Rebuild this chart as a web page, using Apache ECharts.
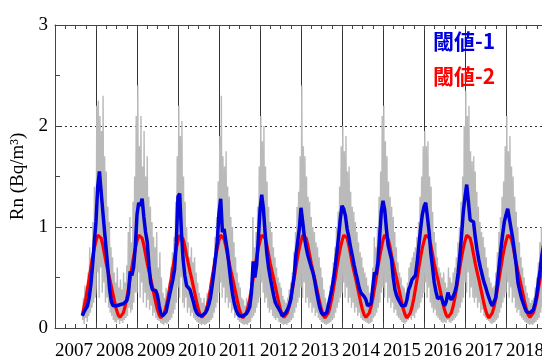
<!DOCTYPE html>
<html>
<head>
<meta charset="utf-8">
<script src="https://cdn.jsdelivr.net/npm/echarts@6/dist/echarts.min.js"></script>
<style>
  html, body { margin: 0; padding: 0; background: #fff; }
  #chart { width: 542px; height: 361px; }
</style>
</head>
<body>
<div id="chart"></div>
<script>
// Year labels along the time axis
const yearLabels = ['2007', '2008', '2009', '2010', '2011', '2012', '2013', '2014', '2015', '2016', '2017', '2018'];
const firstYear = 2007;

// Threshold 1 (blue): half-monthly values, one row per year (2007 row starts in late August)
const threshold1 = [
  [0.12, 0.16, 0.19, 0.22, 0.30, 0.43, 0.62, 0.85],
  [1.05, 1.40, 1.55, 1.35, 1.15, 0.96, 0.77, 0.58, 0.38, 0.26, 0.22, 0.22, 0.22, 0.22, 0.23, 0.23, 0.24, 0.25, 0.27, 0.34, 0.56, 0.52, 0.60, 0.80],
  [1.12, 1.24, 1.21, 1.28, 1.10, 0.95, 0.85, 0.62, 0.45, 0.38, 0.38, 0.37, 0.32, 0.22, 0.14, 0.12, 0.12, 0.16, 0.24, 0.32, 0.40, 0.48, 0.58, 0.85],
  [1.30, 1.33, 0.95, 0.68, 0.52, 0.42, 0.40, 0.38, 0.32, 0.26, 0.19, 0.15, 0.13, 0.12, 0.12, 0.13, 0.15, 0.18, 0.23, 0.30, 0.42, 0.55, 0.70, 0.86],
  [1.14, 1.28, 0.95, 0.98, 0.86, 0.75, 0.60, 0.45, 0.33, 0.24, 0.18, 0.14, 0.12, 0.12, 0.12, 0.12, 0.14, 0.17, 0.21, 0.35, 0.66, 0.50, 0.62, 0.88],
  [1.17, 1.32, 1.18, 0.94, 0.74, 0.60, 0.50, 0.41, 0.32, 0.25, 0.22, 0.21, 0.16, 0.12, 0.13, 0.15, 0.18, 0.22, 0.28, 0.40, 0.52, 0.72, 0.85, 0.98],
  [1.19, 1.05, 0.90, 0.80, 0.72, 0.66, 0.60, 0.55, 0.47, 0.37, 0.28, 0.20, 0.15, 0.13, 0.12, 0.15, 0.22, 0.30, 0.38, 0.48, 0.61, 0.75, 0.90, 1.08],
  [1.21, 1.18, 1.11, 0.98, 0.90, 0.80, 0.72, 0.63, 0.55, 0.48, 0.40, 0.35, 0.33, 0.31, 0.28, 0.22, 0.22, 0.24, 0.40, 0.55, 0.53, 0.65, 0.90, 1.15],
  [1.26, 1.17, 0.98, 0.82, 0.75, 0.68, 0.50, 0.38, 0.32, 0.28, 0.25, 0.22, 0.22, 0.22, 0.28, 0.38, 0.42, 0.48, 0.50, 0.52, 0.65, 0.82, 0.98, 1.12],
  [1.20, 1.24, 1.10, 0.95, 0.74, 0.60, 0.45, 0.36, 0.29, 0.30, 0.31, 0.26, 0.22, 0.26, 0.35, 0.30, 0.28, 0.31, 0.35, 0.42, 0.55, 0.72, 0.92, 1.15],
  [1.30, 1.42, 1.25, 1.07, 1.07, 1.05, 0.90, 0.78, 0.68, 0.60, 0.53, 0.46, 0.41, 0.35, 0.30, 0.25, 0.22, 0.26, 0.30, 0.45, 0.62, 0.78, 0.92, 1.05],
  [1.12, 1.18, 1.17, 0.98, 0.88, 0.75, 0.62, 0.45, 0.37, 0.30, 0.25, 0.20, 0.16, 0.15, 0.15, 0.15, 0.18, 0.24, 0.33, 0.46, 0.58, 0.72, 0.82, 0.92]
];

// Threshold 2 (red): half-monthly values, one row per year
const threshold2 = [
  [0.13, 0.21, 0.29, 0.39, 0.49, 0.60, 0.70, 0.79],
  [0.86, 0.92, 0.93, 0.89, 0.82, 0.73, 0.64, 0.56, 0.49, 0.41, 0.33, 0.25, 0.18, 0.13, 0.105, 0.11, 0.15, 0.21, 0.29, 0.39, 0.49, 0.60, 0.70, 0.79],
  [0.86, 0.92, 0.93, 0.89, 0.82, 0.73, 0.64, 0.56, 0.49, 0.41, 0.33, 0.25, 0.18, 0.13, 0.10, 0.11, 0.15, 0.21, 0.29, 0.39, 0.49, 0.60, 0.70, 0.79],
  [0.86, 0.92, 0.92, 0.88, 0.81, 0.72, 0.64, 0.56, 0.49, 0.41, 0.33, 0.25, 0.18, 0.13, 0.105, 0.11, 0.15, 0.21, 0.29, 0.39, 0.50, 0.60, 0.70, 0.79],
  [0.87, 0.92, 0.92, 0.88, 0.81, 0.72, 0.64, 0.56, 0.49, 0.41, 0.33, 0.25, 0.18, 0.13, 0.10, 0.11, 0.15, 0.21, 0.29, 0.39, 0.49, 0.60, 0.70, 0.79],
  [0.86, 0.92, 0.93, 0.89, 0.82, 0.73, 0.64, 0.56, 0.49, 0.41, 0.33, 0.25, 0.18, 0.13, 0.105, 0.11, 0.15, 0.21, 0.29, 0.39, 0.49, 0.60, 0.70, 0.79],
  [0.86, 0.92, 0.93, 0.89, 0.82, 0.73, 0.64, 0.56, 0.49, 0.41, 0.33, 0.25, 0.18, 0.13, 0.10, 0.11, 0.15, 0.21, 0.29, 0.39, 0.49, 0.60, 0.70, 0.79],
  [0.86, 0.92, 0.93, 0.89, 0.82, 0.73, 0.64, 0.56, 0.49, 0.41, 0.33, 0.25, 0.18, 0.13, 0.105, 0.11, 0.15, 0.21, 0.29, 0.39, 0.49, 0.60, 0.70, 0.79],
  [0.87, 0.92, 0.92, 0.88, 0.81, 0.72, 0.64, 0.56, 0.49, 0.41, 0.33, 0.25, 0.18, 0.13, 0.10, 0.11, 0.15, 0.21, 0.29, 0.39, 0.49, 0.60, 0.70, 0.79],
  [0.86, 0.92, 0.93, 0.89, 0.82, 0.73, 0.64, 0.56, 0.49, 0.41, 0.33, 0.25, 0.18, 0.13, 0.105, 0.11, 0.15, 0.21, 0.29, 0.39, 0.49, 0.60, 0.70, 0.79],
  [0.86, 0.92, 0.93, 0.89, 0.82, 0.73, 0.64, 0.56, 0.49, 0.41, 0.33, 0.25, 0.18, 0.13, 0.10, 0.11, 0.15, 0.21, 0.29, 0.39, 0.49, 0.60, 0.70, 0.79],
  [0.86, 0.92, 0.93, 0.89, 0.82, 0.73, 0.64, 0.56, 0.49, 0.41, 0.33, 0.25, 0.18, 0.13, 0.105, 0.11, 0.15, 0.21, 0.29, 0.39, 0.49, 0.60, 0.70, 0.79]
];

// Measured radon (grey): weekly values, one row per year (2007 row starts in late August)
const radon = [
  [0.08, 0.30, 0.04, 0.42, 0.10, 0.35, 0.06, 0.55, 0.12, 0.80, 0.15, 0.70, 0.20, 1.05, 0.25, 1.40, 0.30],
  [0.40, 2.20, 0.55, 2.25, 0.30, 2.10, 0.60, 1.95, 0.35, 2.30, 0.45, 1.70, 0.25, 1.55, 0.30, 1.20, 0.20, 1.05, 0.15, 0.80, 0.12, 0.70, 0.08, 0.55, 0.06, 0.45, 0.05, 0.60, 0.08, 0.40, 0.04, 0.48, 0.07, 0.38, 0.05, 0.55, 0.08, 0.45, 0.10, 0.62, 0.12, 0.95, 0.20, 1.10, 0.15, 0.85, 0.18, 1.25, 0.25, 1.50, 0.35, 2.10],
  [0.35, 2.40, 0.55, 1.80, 0.30, 2.10, 0.45, 1.60, 0.25, 1.95, 0.35, 1.50, 0.20, 1.70, 0.28, 1.30, 0.18, 1.20, 0.22, 1.05, 0.12, 0.90, 0.15, 0.80, 0.10, 0.95, 0.08, 0.60, 0.07, 0.75, 0.05, 0.50, 0.04, 0.35, 0.03, 0.30, 0.05, 0.40, 0.04, 0.28, 0.06, 0.45, 0.08, 0.60, 0.10, 0.75, 0.14, 0.90, 0.18, 1.25, 0.25, 1.70],
  [0.40, 2.20, 0.30, 1.90, 0.50, 2.05, 0.25, 1.50, 0.20, 1.25, 0.30, 1.00, 0.15, 0.85, 0.20, 0.70, 0.12, 0.80, 0.15, 0.65, 0.10, 0.70, 0.08, 0.55, 0.06, 0.45, 0.05, 0.35, 0.04, 0.30, 0.03, 0.25, 0.04, 0.30, 0.03, 0.22, 0.04, 0.35, 0.05, 0.30, 0.06, 0.45, 0.08, 0.55, 0.10, 0.70, 0.15, 0.90, 0.20, 1.10, 0.25, 1.45],
  [0.35, 1.90, 0.45, 2.30, 0.30, 1.70, 0.40, 1.60, 0.25, 1.75, 0.30, 1.40, 0.20, 1.30, 0.25, 1.10, 0.15, 1.00, 0.18, 0.85, 0.10, 0.70, 0.12, 0.55, 0.08, 0.45, 0.06, 0.40, 0.05, 0.30, 0.04, 0.28, 0.03, 0.22, 0.04, 0.30, 0.03, 0.25, 0.05, 0.35, 0.06, 0.45, 0.10, 1.10, 0.12, 0.80, 0.15, 0.95, 0.20, 1.20, 0.25, 1.60],
  [0.30, 2.10, 0.45, 1.85, 0.35, 2.00, 0.25, 1.60, 0.30, 1.45, 0.20, 1.20, 0.15, 1.05, 0.18, 0.95, 0.12, 0.80, 0.10, 0.70, 0.08, 0.60, 0.10, 0.50, 0.06, 0.45, 0.05, 0.40, 0.04, 0.32, 0.03, 0.28, 0.04, 0.25, 0.03, 0.30, 0.05, 0.38, 0.06, 0.45, 0.08, 0.55, 0.10, 0.75, 0.15, 0.95, 0.20, 1.20, 0.25, 1.35, 0.30, 1.70],
  [0.40, 2.40, 0.30, 1.80, 0.45, 1.70, 0.25, 1.50, 0.30, 1.30, 0.20, 1.25, 0.25, 1.10, 0.15, 1.00, 0.20, 0.95, 0.12, 0.85, 0.15, 0.80, 0.10, 0.70, 0.08, 0.60, 0.06, 0.50, 0.05, 0.38, 0.04, 0.30, 0.03, 0.25, 0.04, 0.30, 0.05, 0.42, 0.06, 0.50, 0.08, 0.65, 0.10, 0.80, 0.15, 1.00, 0.20, 1.15, 0.25, 1.40, 0.30, 1.80],
  [0.35, 2.00, 0.45, 1.75, 0.30, 1.90, 0.40, 1.55, 0.25, 1.60, 0.30, 1.35, 0.20, 1.20, 0.25, 1.15, 0.15, 1.05, 0.20, 0.95, 0.12, 0.85, 0.15, 0.75, 0.10, 0.70, 0.08, 0.60, 0.07, 0.55, 0.06, 0.50, 0.05, 0.42, 0.04, 0.35, 0.05, 0.32, 0.06, 0.60, 0.10, 0.90, 0.12, 0.80, 0.15, 1.00, 0.20, 1.30, 0.25, 1.55, 0.35, 2.10],
  [0.40, 2.20, 0.30, 1.85, 0.45, 1.70, 0.25, 1.45, 0.30, 1.30, 0.20, 1.20, 0.25, 1.10, 0.15, 0.95, 0.18, 0.80, 0.12, 0.65, 0.10, 0.55, 0.08, 0.50, 0.06, 0.42, 0.05, 0.40, 0.04, 0.35, 0.06, 0.45, 0.08, 0.60, 0.10, 0.65, 0.08, 0.70, 0.12, 0.75, 0.10, 0.80, 0.15, 0.90, 0.18, 1.05, 0.20, 1.30, 0.25, 1.50, 0.30, 1.80],
  [0.35, 1.95, 0.45, 1.80, 0.30, 1.85, 0.40, 1.50, 0.25, 1.40, 0.20, 1.15, 0.15, 0.95, 0.18, 0.85, 0.12, 0.70, 0.10, 0.60, 0.08, 0.55, 0.06, 0.50, 0.05, 0.55, 0.06, 0.45, 0.05, 0.40, 0.08, 0.60, 0.06, 0.50, 0.05, 0.45, 0.07, 0.55, 0.08, 0.60, 0.10, 0.70, 0.12, 0.85, 0.15, 1.00, 0.20, 1.25, 0.25, 1.50, 0.30, 2.00],
  [0.45, 2.35, 0.35, 2.10, 0.55, 2.20, 0.30, 1.75, 0.40, 1.65, 0.30, 1.70, 0.25, 1.55, 0.30, 1.35, 0.20, 1.20, 0.25, 1.05, 0.15, 0.95, 0.18, 0.90, 0.12, 0.80, 0.10, 0.70, 0.08, 0.60, 0.07, 0.50, 0.05, 0.45, 0.04, 0.40, 0.05, 0.42, 0.06, 0.55, 0.08, 0.75, 0.10, 0.95, 0.15, 1.10, 0.20, 1.30, 0.25, 1.45, 0.30, 1.80],
  [0.35, 2.10, 0.45, 1.75, 0.30, 1.90, 0.40, 1.60, 0.25, 1.50, 0.30, 1.30, 0.20, 1.15, 0.15, 1.00, 0.18, 0.85, 0.12, 0.70, 0.10, 0.60, 0.08, 0.50, 0.06, 0.42, 0.05, 0.35, 0.04, 0.30, 0.03, 0.25, 0.04, 0.28, 0.03, 0.30, 0.05, 0.40, 0.06, 0.50, 0.08, 0.65, 0.10, 0.85, 0.15, 1.00, 0.20, 1.15, 0.25, 1.30, 0.30, 1.50]
];

// Legend entries
const legendNames = ['閾値-1', '閾値-2'];
const legendColors = ['#0000dd', '#ff0000'];

// Turn per-year rows into [decimal year, value] pairs; a short row ends at the year's end
function toSeries(rows, perYear) {
  const out = [];
  rows.forEach(function (row, k) {
    const offset = perYear - row.length;
    row.forEach(function (v, i) {
      out.push([firstYear + k + (offset + i) / perYear, v]);
    });
  });
  return out;
}

const serifFont = '"Liberation Serif", "Times New Roman", serif';
const chart = echarts.init(document.getElementById('chart'), null, { renderer: 'canvas' });

const xCommon = {
  type: 'value',
  min: 2007,
  max: 2019,
  interval: 1,
  axisLine: { show: true, lineStyle: { color: '#444', width: 1 } },
  axisTick: { show: true, inside: true, length: 5, lineStyle: { color: '#444' } },
  minorTick: { show: true, splitNumber: 4, length: 4, lineStyle: { color: '#444' } }
};

chart.setOption({
  animation: false,
  backgroundColor: '#fff',
  grid: { left: 55, top: 25, right: -5, bottom: 33, containLabel: false, outerBoundsMode: 'none' },
  xAxis: [
    Object.assign({}, xCommon, {
      position: 'bottom',
      axisLabel: {
        show: true, align: 'left', margin: 14, color: '#000',
        fontFamily: serifFont, fontSize: 19, showMaxLabel: false,
        formatter: function (v) { return yearLabels[Math.round(v) - firstYear] || ''; }
      },
      splitLine: { show: true, lineStyle: { color: '#333', width: 1, type: 'solid' } }
    }),
    Object.assign({}, xCommon, {
      position: 'top',
      axisLabel: { show: false },
      splitLine: { show: false }
    })
  ],
  yAxis: {
    type: 'value',
    min: 0,
    max: 3,
    interval: 1,
    name: 'Rn (Bq/m³)',
    nameLocation: 'middle',
    nameGap: 16,
    nameTextStyle: { fontFamily: serifFont, fontSize: 19, color: '#000' },
    axisLine: { show: true, lineStyle: { color: '#444', width: 1 } },
    axisTick: { show: true, inside: true, length: 5, lineStyle: { color: '#444' } },
    minorTick: { show: true, splitNumber: 2, length: 5, lineStyle: { color: '#444' } },
    axisLabel: { margin: 7, color: '#000', fontFamily: serifFont, fontSize: 19 },
    splitLine: { show: true, lineStyle: { color: '#333', width: 1, type: [2, 3] } }
  },
  graphic: legendNames.map(function (name, i) {
    return {
      type: 'text',
      left: 433,
      top: 31 + i * 35,
      z: 100,
      style: {
        text: name,
        fill: legendColors[i],
        font: 'bold 21px "Noto Sans CJK JP", sans-serif'
      }
    };
  }),
  series: [
    {
      name: 'Rn',
      type: 'line',
      data: toSeries(radon, 52),
      showSymbol: false,
      sampling: null,
      lineStyle: { color: '#bababa', width: 1.4 },
      z: 2
    },
    {
      name: legendNames[1],
      type: 'line',
      data: toSeries(threshold2, 24),
      showSymbol: false,
      lineStyle: { color: legendColors[1], width: 3.2 },
      z: 3
    },
    {
      name: legendNames[0],
      type: 'line',
      data: toSeries(threshold1, 24),
      showSymbol: false,
      lineStyle: { color: legendColors[0], width: 3.5 },
      z: 4
    }
  ]
});
</script>
</body>
</html>
